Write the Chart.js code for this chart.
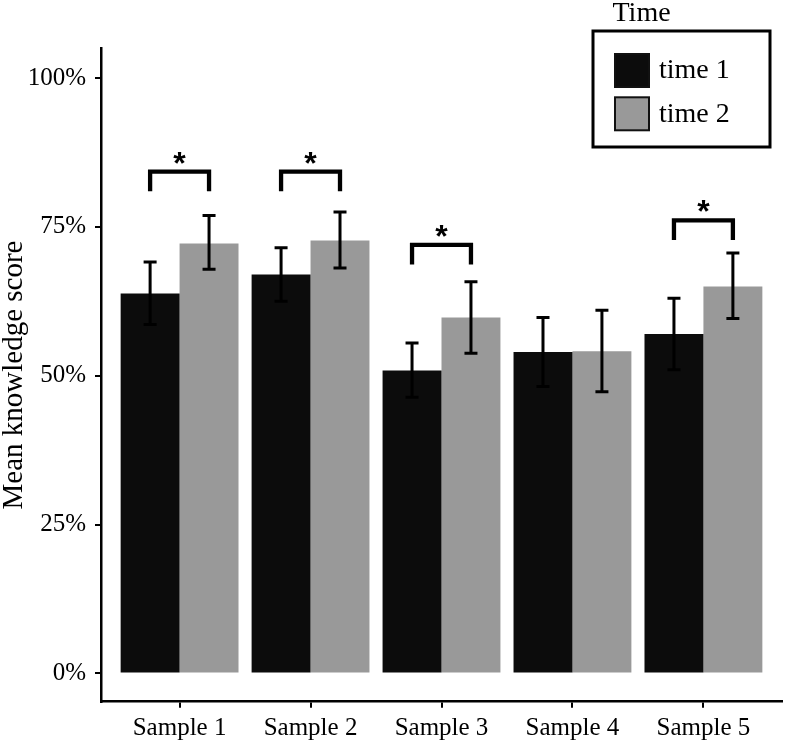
<!DOCTYPE html>
<html><head><meta charset="utf-8">
<script src="https://cdn.jsdelivr.net/npm/chart.js@4.4.1/dist/chart.umd.min.js"></script>
<style>html,body{margin:0;padding:0;background:#fff;} #wrap{width:786px;height:741px;}</style>
</head><body><div id="wrap"><canvas id="c" width="786" height="741"></canvas></div>
<script>
const categories = ['Sample 1','Sample 2','Sample 3','Sample 4','Sample 5'];
const seriesNames = ['time 1','time 2'];
const time1Mean = [63.8, 67.0, 50.9, 54.0, 57.0];
const time1Low  = [58.6, 62.5, 46.4, 48.2, 51.0];
const time1High = [69.1, 71.5, 55.5, 59.8, 63.0];
const time2Mean = [72.2, 72.7, 59.8, 54.1, 65.0];
const time2Low  = [67.9, 68.1, 53.8, 47.3, 59.6];
const time2High = [76.9, 77.5, 65.8, 61.0, 70.6];
const yTicks = [0, 25, 50, 75, 100];
const sigBracket = [84.3, 84.3, 72.0, null, 76.1];
const sigLabel = '*';
const legendTitle = 'Time';
const yTitle = 'Mean knowledge score';

const colors = ['#0c0c0c', '#999999'];
const lows = [time1Low, time2Low];
const highs = [time1High, time2High];
const SERIF = "'Liberation Serif', 'Times New Roman', serif";

const overlay = {
  id: 'overlay',
  afterDatasetsDraw(chart) {
    const ctx = chart.ctx;
    const ys = chart.scales.y;
    ctx.save();
    ctx.strokeStyle = '#000';
    ctx.lineWidth = 3;
    ctx.lineCap = 'butt';
    for (let d = 0; d < 2; d++) {
      const meta = chart.getDatasetMeta(d);
      meta.data.forEach((bar, i) => {
        const x = bar.x;
        const yl = ys.getPixelForValue(lows[d][i]);
        const yh = ys.getPixelForValue(highs[d][i]);
        ctx.beginPath();
        ctx.moveTo(x, yl); ctx.lineTo(x, yh);
        ctx.moveTo(x - 6.5, yh); ctx.lineTo(x + 6.5, yh);
        ctx.moveTo(x - 6.5, yl); ctx.lineTo(x + 6.5, yl);
        ctx.stroke();
      });
    }
    const m0 = chart.getDatasetMeta(0), m1 = chart.getDatasetMeta(1);
    sigBracket.forEach((v, i) => {
      if (v === null) return;
      const x1 = m0.data[i].x, x2 = m1.data[i].x;
      const yt = ys.getPixelForValue(v);
      const yb = ys.getPixelForValue(v - 3.3);
      ctx.beginPath();
      ctx.lineWidth = 4.3;
      ctx.lineJoin = 'miter';
      ctx.moveTo(x1, yb); ctx.lineTo(x1, yt); ctx.lineTo(x2, yt); ctx.lineTo(x2, yb);
      ctx.stroke();
      ctx.fillStyle = '#000';
      ctx.font = "bold 32px 'Liberation Sans', Arial, sans-serif";
      ctx.textAlign = 'center';
      ctx.textBaseline = 'alphabetic';
      const mt = ctx.measureText(sigLabel);
      const cy = yt - 14;
      ctx.fillText(sigLabel, (x1 + x2) / 2, cy + (mt.actualBoundingBoxAscent - mt.actualBoundingBoxDescent) / 2);
    });
    ctx.restore();
  },
  afterDraw(chart) {
    const ctx = chart.ctx;
    ctx.save();
    ctx.fillStyle = '#000';
    ctx.font = '28px ' + SERIF;
    ctx.textAlign = 'left';
    ctx.textBaseline = 'alphabetic';
    ctx.fillText(legendTitle, 612.5, 21);
    ctx.fillStyle = '#fff';
    ctx.fillRect(593, 31, 177, 116);
    ctx.strokeStyle = '#000';
    ctx.lineWidth = 3;
    ctx.strokeRect(593, 31, 177, 116);
    chart.data.datasets.forEach((ds, d) => {
      const top = 54 + d * 43.3;
      ctx.fillStyle = ds.backgroundColor;
      ctx.fillRect(615, top, 34, 33);
      ctx.lineWidth = 2;
      ctx.strokeStyle = '#111';
      ctx.strokeRect(615, top, 34, 33);
      ctx.fillStyle = '#000';
      ctx.textBaseline = 'middle';
      ctx.fillText(ds.label, 659, top + 17);
    });
    ctx.restore();
  }
};

new Chart(document.getElementById('c').getContext('2d'), {
  type: 'bar',
  data: {
    datasets: [
      { label: seriesNames[0], data: categories.map((c, i) => ({ x: i + 1, y: time1Mean[i] })),
        backgroundColor: colors[0], borderWidth: 0, categoryPercentage: 0.9, barPercentage: 1.0 },
      { label: seriesNames[1], data: categories.map((c, i) => ({ x: i + 1, y: time2Mean[i] })),
        backgroundColor: colors[1], borderWidth: 0, categoryPercentage: 0.9, barPercentage: 1.0 }
    ]
  },
  options: {
    responsive: false,
    animation: false,
    devicePixelRatio: 1,
    layout: { padding: { left: 0, right: 4, top: 48.3, bottom: 0 } },
    plugins: { legend: { display: false }, tooltip: { enabled: false } },
    scales: {
      x: {
        type: 'linear', min: 0.4, max: 5.6, offset: false,
        afterBuildTicks: s => { s.ticks = categories.map((c, i) => ({ value: i + 1 })); },
        afterFit: s => { s.height = 39.3; },
        ticks: { callback: v => categories[v - 1], font: { family: SERIF, size: 25 }, color: '#000',
                 padding: 6, autoSkip: false, maxRotation: 0 },
        grid: { offset: false, drawOnChartArea: false, drawTicks: true, tickLength: 6, color: '#000', lineWidth: 2 },
        border: { display: true, color: '#000', width: 2.5 }
      },
      y: {
        min: -4.74, max: 105,
        afterBuildTicks: s => { s.ticks = yTicks.map(v => ({ value: v })); },
        afterFit: s => { s.width = 101; },
        ticks: { callback: v => v + '%', font: { family: SERIF, size: 25 }, color: '#000', padding: 9 },
        grid: { drawOnChartArea: false, drawTicks: true, tickLength: 6, color: '#000', lineWidth: 2 },
        border: { display: true, color: '#000', width: 2.5 },
        title: { display: true, text: yTitle, color: '#000', padding: 0,
                 font: { family: SERIF, size: 29, lineHeight: 1 } }
      }
    }
  },
  plugins: [overlay]
});
</script>
</body></html>
